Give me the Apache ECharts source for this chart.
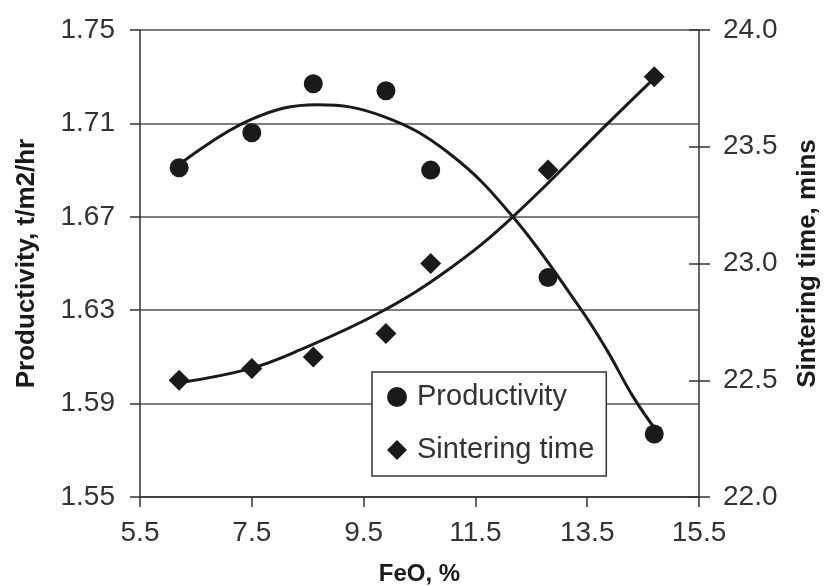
<!DOCTYPE html>
<html>
<head>
<meta charset="UTF-8">
<title>Productivity and sintering time vs FeO</title>
<style>
  html, body { margin: 0; padding: 0; background: #fff; }
  #main { width: 824px; height: 586px; }
</style>
</head>
<body>
<div id="main"></div>
<script src="https://cdn.jsdelivr.net/npm/echarts@6/dist/echarts.min.js"></script>
<script>
// measured points
var feo = [6.2, 7.5, 8.6, 9.9, 10.7, 12.8, 14.7];
var productivity = [1.691, 1.706, 1.727, 1.724, 1.690, 1.644, 1.577];
var sinteringTime = [22.50, 22.55, 22.60, 22.70, 23.00, 23.40, 23.80];

// trend curves
var prodTrendX = [6.18, 7.47, 8.67, 9.85, 11.04, 12.17, 13.37, 13.85, 14.32, 14.75];
var prodTrendY = [1.692, 1.7115, 1.718, 1.713, 1.697, 1.670, 1.631, 1.613, 1.593, 1.578];
var sintTrendX = [6.22, 7.47, 8.36, 9.79, 11.05, 12.17, 13.91, 14.77];
var sintTrendY = [22.49, 22.55, 22.63, 22.79, 22.98, 23.20, 23.61, 23.81];

// tick labels
var xTicks = [5.5, 7.5, 9.5, 11.5, 13.5, 15.5];
var prodTicks = [1.55, 1.59, 1.63, 1.67, 1.71, 1.75];
var sintTicks = [22.0, 22.5, 23.0, 23.5, 24.0];

function pairs(xs, ys) {
  var out = [];
  for (var i = 0; i < xs.length; i++) out.push([xs[i], ys[i]]);
  return out;
}

var font = '"Liberation Sans", Arial, sans-serif';
var ink = '#1a1a1a';
var nameStyle = { fontFamily: font, fontSize: 26, fontWeight: 'bold', color: ink };

var myChart = echarts.init(document.getElementById('main'));
var option = {
  animation: false,
  grid: { left: 140, right: 125, top: 30, bottom: 89, containLabel: false, outerBoundsMode: 'none' },
  legend: {
    data: ['Productivity', 'Sintering time'],
    orient: 'vertical',
    left: 372,
    top: 372,
    padding: [9, 12, 10, 15],
    itemGap: 21,
    itemWidth: 20,
    itemHeight: 20,
    backgroundColor: '#fff',
    borderColor: '#333',
    borderWidth: 1.5,
    borderRadius: 0,
    textStyle: { fontFamily: font, fontSize: 29, color: '#333', lineHeight: 32, padding: [0, 0, 0, 5] }
  },
  xAxis: {
    type: 'value',
    min: 5.5,
    max: 15.5,
    name: 'FeO, %',
    nameLocation: 'middle',
    nameGap: 65,
    nameTextStyle: { fontFamily: font, fontSize: 24, fontWeight: 'bold', color: ink },
    axisLine: { lineStyle: { color: '#333', width: 1.5 } },
    axisTick: { customValues: xTicks, length: 10, lineStyle: { color: '#333', width: 1.5 } },
    axisLabel: {
      customValues: xTicks, margin: 22, fontFamily: font, fontSize: 28, color: '#333',
      formatter: function (v) { return v.toFixed(1); }
    },
    splitLine: { show: false }
  },
  yAxis: [{
    type: 'value',
    position: 'left',
    min: 1.55,
    max: 1.75,
    name: 'Productivity, t/m2/hr',
    nameLocation: 'middle',
    nameGap: 100,
    nameTextStyle: nameStyle,
    axisLine: { show: true, lineStyle: { color: '#333', width: 1.5 } },
    axisTick: { show: true, customValues: prodTicks, length: 10, lineStyle: { color: '#333', width: 1.5 } },
    axisLabel: {
      customValues: prodTicks, margin: 25, fontFamily: font, fontSize: 28, color: '#333',
      formatter: function (v) { return v.toFixed(2); }
    },
    splitLine: { show: true, lineStyle: { color: '#555', width: 1.5 } }
  }, {
    type: 'value',
    position: 'right',
    min: 22,
    max: 24,
    name: 'Sintering time, mins',
    nameLocation: 'middle',
    nameGap: 96,
    nameTextStyle: nameStyle,
    axisLine: { show: true, lineStyle: { color: '#333', width: 1.5 } },
    axisTick: { show: true, customValues: sintTicks, length: 11, lineStyle: { color: '#333', width: 1.5 } },
    axisLabel: {
      customValues: sintTicks, margin: 24, fontFamily: font, fontSize: 28, color: '#333',
      formatter: function (v) { return v.toFixed(1); }
    },
    splitLine: { show: false }
  }, {
    // inner half of the crossing ticks on the right axis
    type: 'value',
    position: 'right',
    min: 22,
    max: 24,
    axisLine: { show: false },
    axisTick: { show: true, customValues: sintTicks, inside: true, length: 10, lineStyle: { color: '#333', width: 1.5 } },
    axisLabel: { show: false },
    splitLine: { show: false }
  }],
  series: [{
    name: 'Productivity trend',
    type: 'line',
    yAxisIndex: 0,
    data: pairs(prodTrendX, prodTrendY),
    showSymbol: false,
    smooth: 0.4,
    lineStyle: { color: ink, width: 3 },
    z: 3
  }, {
    name: 'Sintering trend',
    type: 'line',
    yAxisIndex: 1,
    data: pairs(sintTrendX, sintTrendY),
    showSymbol: false,
    smooth: 0.4,
    lineStyle: { color: ink, width: 3 },
    z: 3
  }, {
    name: 'Productivity',
    type: 'scatter',
    yAxisIndex: 0,
    symbol: 'circle',
    symbolSize: 19,
    data: pairs(feo, productivity),
    itemStyle: { color: ink, opacity: 1 },
    z: 4
  }, {
    name: 'Sintering time',
    type: 'scatter',
    yAxisIndex: 1,
    symbol: 'diamond',
    symbolSize: 21,
    data: pairs(feo, sinteringTime),
    itemStyle: { color: ink, opacity: 1 },
    z: 4
  }]
};
myChart.setOption(option);
</script>
</body>
</html>
